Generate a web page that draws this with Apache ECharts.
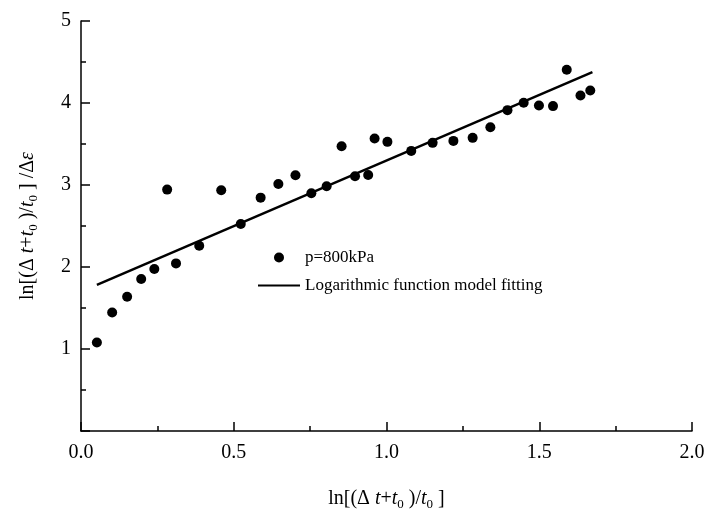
<!DOCTYPE html>
<html>
<head>
<meta charset="utf-8">
<script src="https://cdn.jsdelivr.net/npm/echarts@6/dist/echarts.min.js"></script>
<style>html,body{margin:0;padding:0;background:#fff}#c{width:710px;height:518px}</style>
</head>
<body>
<div id="c"></div>
<script>
// Measured points
const xValues = [0.052,0.102,0.151,0.197,0.240,0.282,0.311,0.387,0.459,0.523,0.588,0.646,0.702,0.754,0.804,0.853,0.897,0.940,0.961,1.003,1.081,1.151,1.219,1.282,1.340,1.396,1.449,1.499,1.545,1.590,1.635,1.667];
const yValues = [1.079,1.445,1.637,1.853,1.975,2.944,2.044,2.260,2.936,2.524,2.846,3.013,3.119,2.899,2.985,3.473,3.107,3.123,3.567,3.526,3.416,3.514,3.538,3.575,3.705,3.913,4.002,3.970,3.962,4.406,4.092,4.153];
// Fitted line
const fitX = [0.052, 1.674];
const fitY = [1.783, 4.377];
const seriesNames = ['p=800kPa', 'Logarithmic function model fitting'];
const xTicks = [0, 2, 0.5];
const yTicks = [0, 5, 1];

const FONT = "'Liberation Serif','Times New Roman',serif";
const rich = {
  n: {fontFamily: FONT, fontSize: 20, color: '#000', lineHeight: 24},
  i: {fontFamily: FONT, fontSize: 20, fontStyle: 'italic', color: '#000', lineHeight: 24},
  s: {fontFamily: FONT, fontSize: 13, color: '#000', lineHeight: 10, verticalAlign: 'bottom'}
};
const xName = '{n|ln[(Δ }{i|t}{n|+}{i|t}{s|0}{n| )/}{i|t}{s|0}{n| ]}';
const yName = '{n|ln[(Δ }{i|t}{n|+}{i|t}{s|0}{n| )/}{i|t}{s|0}{n| ] /Δ}{i|ε}';

const chart = echarts.init(document.getElementById('c'));
const axisCommon = {
  axisLine: {show: true, lineStyle: {color: '#000', width: 1.5}},
  axisTick: {show: true, inside: true, length: 9, lineStyle: {color: '#000', width: 1.5}},
  minorTick: {show: true, splitNumber: 2, length: 5, lineStyle: {color: '#000', width: 1.5}},
  splitLine: {show: false},
  minorSplitLine: {show: false},
  axisLabel: {fontFamily: FONT, fontSize: 20, color: '#000', margin: 10}
};
chart.setOption({
  animation: false,
  backgroundColor: '#fff',
  grid: {left: 81, right: 18, top: 21, bottom: 87, containLabel: false},
  xAxis: Object.assign({}, axisCommon, {
    type: 'value', min: xTicks[0], max: xTicks[1], interval: xTicks[2],
    name: xName, nameLocation: 'middle', nameGap: 56,
    nameTextStyle: {rich: rich},
    axisLabel: Object.assign({}, axisCommon.axisLabel, {formatter: v => v.toFixed(1), margin: 12})
  }),
  yAxis: Object.assign({}, axisCommon, {
    type: 'value', min: yTicks[0], max: yTicks[1], interval: yTicks[2],
    name: yName, nameLocation: 'middle', nameGap: 41, nameRotate: 90,
    nameTextStyle: {rich: rich},
    axisLabel: Object.assign({}, axisCommon.axisLabel, {formatter: v => v === 0 ? '' : String(v)})
  }),
  legend: {
    orient: 'vertical', left: 252, top: 244,
    itemWidth: 42, itemHeight: 10, itemGap: 11,
    textStyle: {fontFamily: FONT, fontSize: 17, color: '#000'},
    data: [
      {name: seriesNames[0]},
      {name: seriesNames[1], itemStyle: {opacity: 0}}
    ]
  },
  series: [
    {
      name: seriesNames[0], type: 'scatter', symbol: 'circle', symbolSize: 10,
      itemStyle: {color: '#000', opacity: 1},
      data: xValues.map((x, k) => [x, yValues[k]])
    },
    {
      name: seriesNames[1], type: 'line', showSymbol: false, symbol: 'none',
      lineStyle: {color: '#000', width: 2.5},
      itemStyle: {color: '#000'},
      data: fitX.map((x, k) => [x, fitY[k]])
    }
  ]
});
</script>
</body>
</html>
